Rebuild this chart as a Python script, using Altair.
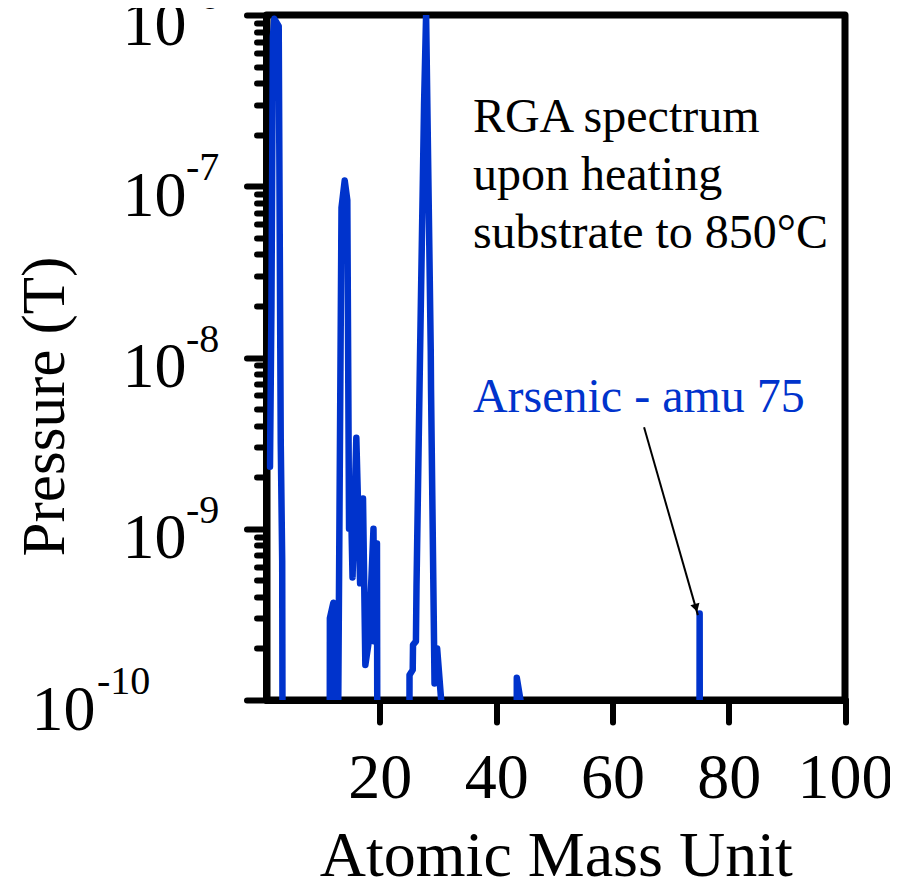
import altair as alt
import pandas as pd

# ---- data ----
amu = [1.1, 1.35, 1.6, 1.85, 2.6, 2.95, 3.2, 3.3,
       11.35, 11.4, 12.0, 12.1, 12.65, 13.4, 13.95, 14.4, 14.7, 15.0, 15.3,
       15.95, 16.6, 17.1, 17.5, 18.1, 18.9, 19.05, 19.5, 19.6,
       25.05, 25.1, 25.65, 25.7, 26.2, 26.3, 26.9, 27.6, 27.95, 28.75, 28.8,
       29.4, 29.85, 30.55, 30.6,
       43.5, 43.55, 44.2, 44.25,
       74.95, 75.0, 75.05, 100.0]
pressure = [2.3e-9, 2.0e-8, 7.5e-7, 9.5e-7, 8.6e-7, 3.2e-9, 6.5e-10, 1e-11,
            1e-11, 3.0e-10, 3.7e-10, 1e-11, 1e-11, 7.5e-8, 1.08e-7, 8.3e-8, 1.0e-9, 1.6e-9, 5.2e-10,
            3.4e-9, 4.8e-10, 1.5e-9, 1.6e-10, 2.2e-10, 1.0e-9, 2.2e-10, 8.2e-10, 1e-11,
            1e-11, 1.4e-10, 1.5e-10, 2.1e-10, 2.2e-10, 4.6e-10, 1.0e-8, 3.0e-7, 1.0e-6, 1.1e-8, 6.5e-9,
            1.25e-10, 2.0e-10, 9.9e-11, 1e-11,
            1e-11, 1.35e-10, 9.9e-11, 1e-11,
            1e-11, 3.2e-10, 1e-11, 1e-11]

decades = [1e-10, 1e-9, 1e-8, 1e-7, 1e-6]
exponents = ["-10", "-9", "-8", "-7", "-6"]
minor_mantissas = [2, 3, 4, 5, 6, 7, 8, 9]
x_ticks = [20, 40, 60, 80, 100]

note_text = ["RGA spectrum\nupon heating\nsubstrate to 850°C"]
note_amu = [36.0]
note_p = [2.08e-7]

as_text = ["Arsenic - amu 75"]
as_amu = [36.0]
as_p = [4.8e-9]

arrow_amu = [65.44, 74.7]
arrow_p = [3.91e-9, 3.13e-10]
head_amu = [74.38]
head_p = [3.45e-10]

BLUE = "#0033cc"
FONT = "Liberation Serif"

df = pd.DataFrame({"amu": amu, "p": pressure, "i": list(range(len(amu)))})
exp_df = pd.DataFrame({"p": decades, "e": exponents})
note_df = pd.DataFrame({"amu": note_amu, "p": note_p, "t": note_text})
as_df = pd.DataFrame({"amu": as_amu, "p": as_p, "t": as_text})
arrow_df = pd.DataFrame({"amu": arrow_amu, "p": arrow_p})
head_df = pd.DataFrame({"amu": head_amu, "p": head_p})

y_values = sorted(decades + [m * d for d in decades[:-1] for m in minor_mantissas])
is_decade = "abs(log(datum.value)/LN10 - round(log(datum.value)/LN10)) < 0.001"
is_bottom = "datum.value < 1.5e-10"

xscale = alt.Scale(domain=[0.5, 100], nice=False, zero=False)
yscale = alt.Scale(type="log", domain=[1e-10, 1e-6], nice=False)

x_axis = alt.Axis(values=x_ticks, title="Atomic Mass Unit", tickSize=22,
                  labelFontSize=64, labelBaseline="alphabetic", labelPadding=75,
                  titleFontSize=64, titleBaseline="alphabetic", titleY=175,
                  labelFlush=False, labelOverlap=False)
y_axis = alt.Axis(values=y_values, title="Pressure (T)",
                  labelExpr=f"({is_decade}) ? '10' : ''",
                  tickSize={"condition": {"test": is_decade, "value": 20}, "value": 10},
                  labelFontSize=64, labelBaseline="alphabetic", labelOffset=29,
                  labelPadding={"condition": {"test": is_bottom, "value": 151.5}, "value": 60.5},
                  labelAlign="right", labelOverlap=False, labelFlush=False,
                  titleFontSize=61, titleAngle=270, titleBaseline="alphabetic",
                  titleAlign="center", titleX=-203, titleY=391)

line = alt.Chart(df).mark_line(color=BLUE, strokeWidth=6.5, clip=True,
                               strokeCap="round", strokeJoin="round").encode(
    x=alt.X("amu:Q", scale=xscale, axis=x_axis),
    y=alt.Y("p:Q", scale=yscale, axis=y_axis),
    order="i:Q",
)

exp_base = alt.Chart(exp_df).mark_text(font=FONT, fontSize=40, align="left",
                                       baseline="middle", dy=-18, color="black")
exps = exp_base.transform_filter("datum.p > 1.5e-10").encode(
    x=alt.value(-80.5),
    y=alt.Y("p:Q", scale=yscale),
    text="e:N",
)
exp_bottom = exp_base.transform_filter("datum.p < 1.5e-10").encode(
    x=alt.value(-169.5),
    y=alt.Y("p:Q", scale=yscale),
    text="e:N",
)

note = alt.Chart(note_df).mark_text(font=FONT, fontSize=48, align="left",
                                    baseline="alphabetic", lineBreak="\n",
                                    lineHeight=58, color="black").encode(
    x=alt.X("amu:Q", scale=xscale), y=alt.Y("p:Q", scale=yscale), text="t:N")

as_label = alt.Chart(as_df).mark_text(font=FONT, fontSize=48, align="left",
                                      baseline="alphabetic", color=BLUE).encode(
    x=alt.X("amu:Q", scale=xscale), y=alt.Y("p:Q", scale=yscale), text="t:N")

arrow = alt.Chart(arrow_df).mark_line(color="black", strokeWidth=2).encode(
    x=alt.X("amu:Q", scale=xscale), y=alt.Y("p:Q", scale=yscale))

head = alt.Chart(head_df).mark_point(shape="triangle-up", angle=164, filled=True,
                                     size=90, color="black", opacity=1).encode(
    x=alt.X("amu:Q", scale=xscale), y=alt.Y("p:Q", scale=yscale))

chart = alt.layer(line, arrow, head, exps, exp_bottom, note, as_label).properties(
    width=578.5, height=685,
    padding={"left": 258.5, "top": 7, "right": 45, "bottom": 182},
    autosize="none",
).configure_view(
    stroke="black", strokeWidth=7, strokeJoin="round"
).configure_axis(
    grid=False, domainColor="black", domainWidth=7, domainCap="round",
    tickColor="black", tickWidth=6, tickCap="round",
    labelFont=FONT, labelColor="black", titleFont=FONT, titleColor="black",
    titleFontWeight="normal",
)

chart.save("out.html", embed_options={"renderer": "svg", "actions": False})
